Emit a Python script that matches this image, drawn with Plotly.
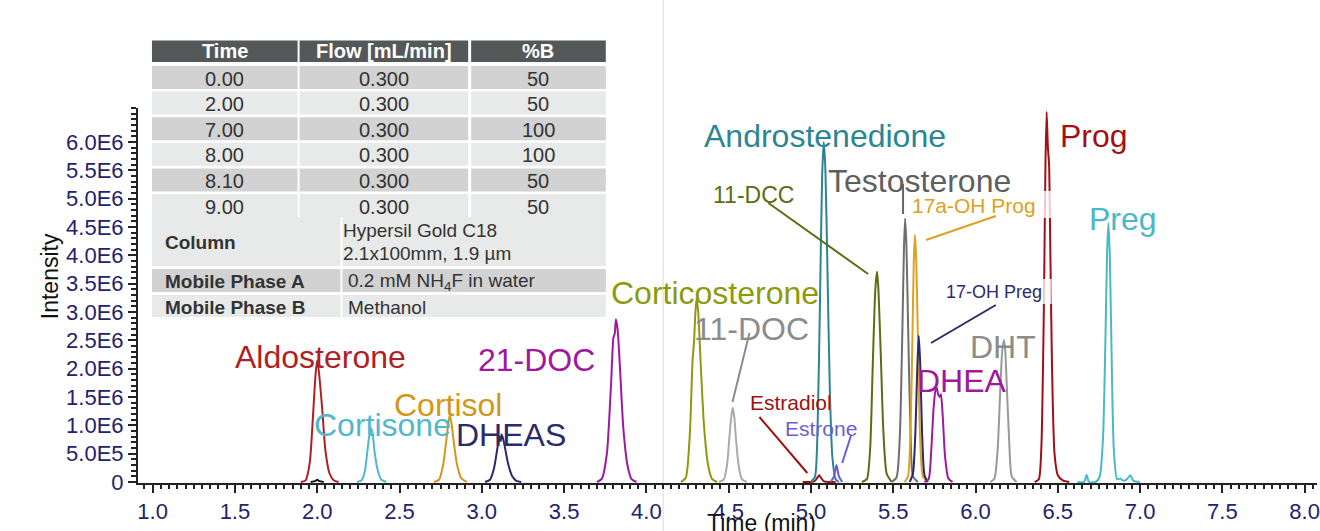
import plotly.graph_objects as go

# ---------------- data (time in min, intensity in 1E6 counts) ----------------
aldo_t = [1.90, 1.93, 1.955, 1.975, 1.99, 2.00, 2.01, 2.03, 2.05, 2.075, 2.10, 2.13]
aldo_i = [0, 0.03, 0.35, 1.2, 1.9, 2.15, 1.95, 1.3, 0.55, 0.15, 0.03, 0]

blank_t = [1.96, 1.99, 2.00, 2.01, 2.04]
blank_i = [0, 0.02, 0.04, 0.02, 0]

cortisone_t = [2.24, 2.27, 2.29, 2.305, 2.318, 2.327, 2.337, 2.35, 2.37, 2.39, 2.42]
cortisone_i = [0, 0.03, 0.2, 0.55, 0.85, 0.95, 0.85, 0.5, 0.18, 0.04, 0]

cortisol_t = [2.71, 2.74, 2.765, 2.785, 2.797, 2.805, 2.815, 2.83, 2.85, 2.875, 2.91]
cortisol_i = [0, 0.04, 0.3, 0.75, 1.05, 1.17, 1.05, 0.7, 0.3, 0.07, 0]

dheas_t = [3.02, 3.05, 3.075, 3.095, 3.108, 3.115, 3.12, 3.128, 3.14, 3.16, 3.185, 3.21, 3.24]
dheas_i = [0, 0.04, 0.25, 0.6, 0.8, 0.72, 0.84, 0.78, 0.62, 0.32, 0.1, 0.02, 0]

doc21_t = [3.70, 3.73, 3.76, 3.785, 3.80, 3.808, 3.815, 3.825, 3.84, 3.86, 3.885, 3.91, 3.94]
doc21_i = [0, 0.06, 0.5, 1.7, 2.55, 2.62, 2.87, 2.7, 2.0, 0.95, 0.3, 0.05, 0]

cortico_t = [4.21, 4.24, 4.265, 4.28, 4.29, 4.298, 4.305, 4.315, 4.33, 4.35, 4.375, 4.40, 4.43]
cortico_i = [0, 0.08, 0.9, 2.1, 2.5, 3.0, 3.24, 3.0, 2.1, 1.0, 0.3, 0.05, 0]

doc11_t = [4.44, 4.47, 4.49, 4.505, 4.517, 4.525, 4.533, 4.545, 4.56, 4.58, 4.61]
doc11_i = [0, 0.04, 0.3, 0.8, 1.18, 1.31, 1.18, 0.75, 0.3, 0.05, 0]

estradiol_t = [4.95, 5.02, 5.04, 5.05, 5.06, 5.08, 5.15]
estradiol_i = [0, 0.01, 0.08, 0.12, 0.08, 0.01, 0]

andro_t = [5.00, 5.025, 5.04, 5.055, 5.068, 5.078, 5.088, 5.10, 5.115, 5.13, 5.15, 5.17]
andro_i = [0, 0.1, 0.9, 3.2, 5.4, 6.0, 5.5, 3.8, 1.6, 0.45, 0.05, 0]

estrone_t = [5.12, 5.14, 5.155, 5.17, 5.19]
estrone_i = [0, 0.1, 0.3, 0.1, 0]

dcc11_t = [5.31, 5.34, 5.36, 5.375, 5.388, 5.395, 5.402, 5.41, 5.425, 5.44, 5.46, 5.49]
dcc11_i = [0, 0.05, 0.6, 2.0, 3.2, 3.55, 3.71, 3.4, 2.2, 0.9, 0.15, 0]

testo_t = [5.49, 5.52, 5.54, 5.555, 5.565, 5.572, 5.58, 5.59, 5.605, 5.62, 5.65]
testo_i = [0, 0.08, 0.8, 2.6, 4.1, 4.65, 4.2, 2.8, 0.9, 0.1, 0]

ohprog_t = [5.57, 5.59, 5.605, 5.617, 5.625, 5.632, 5.64, 5.65, 5.662, 5.68, 5.71]
ohprog_i = [0, 0.1, 0.9, 2.6, 3.9, 4.36, 3.9, 2.5, 0.9, 0.1, 0]

ohpreg_t = [5.60, 5.62, 5.635, 5.646, 5.655, 5.664, 5.675, 5.69, 5.71]
ohpreg_i = [0, 0.15, 0.9, 2.0, 2.58, 2.1, 0.9, 0.12, 0]

dhea_t = [5.69, 5.715, 5.73, 5.745, 5.757, 5.765, 5.773, 5.782, 5.79, 5.80, 5.815, 5.835, 5.86]
dhea_i = [0, 0.05, 0.5, 1.3, 1.62, 1.66, 1.55, 1.5, 1.55, 1.2, 0.45, 0.06, 0]

dht_t = [6.09, 6.115, 6.135, 6.15, 6.162, 6.172, 6.18, 6.19, 6.205, 6.22, 6.25]
dht_i = [0, 0.06, 0.6, 1.6, 2.3, 2.5, 2.35, 1.7, 0.7, 0.1, 0]

prog_t = [6.36, 6.385, 6.40, 6.415, 6.425, 6.432, 6.44, 6.447, 6.455, 6.465, 6.48, 6.50, 6.53, 6.57]
prog_i = [0, 0.05, 0.6, 3.0, 5.6, 6.53, 5.9, 5.6, 4.0, 2.0, 0.5, 0.12, 0.03, 0]

preg_t = [6.62, 6.66, 6.675, 6.69, 6.73, 6.755, 6.775, 6.79, 6.80, 6.808, 6.816, 6.826, 6.84, 6.86,
          6.88, 6.90, 6.92, 6.94, 6.96, 7.00]
preg_i = [0, 0.0, 0.13, 0.0, 0.0, 0.1, 0.8, 2.6, 4.1, 4.57, 4.0, 2.4, 0.6, 0.05,
          0.06, 0.02, 0.05, 0.12, 0.02, 0]

x_tickvals = [1.0, 1.5, 2.0, 2.5, 3.0, 3.5, 4.0, 4.5, 5.0, 5.5, 6.0, 6.5, 7.0, 7.5, 8.0]
x_ticktext = ["1.0", "1.5", "2.0", "2.5", "3.0", "3.5", "4.0", "4.5", "5.0", "5.5", "6.0", "6.5",
              "7.0", "7.5", "8.0"]
y_tickvals = [0, 0.5, 1.0, 1.5, 2.0, 2.5, 3.0, 3.5, 4.0, 4.5, 5.0, 5.5, 6.0]
y_ticktext = ["0", "5.0E5", "1.0E6", "1.5E6", "2.0E6", "2.5E6", "3.0E6", "3.5E6", "4.0E6",
              "4.5E6", "5.0E6", "5.5E6", "6.0E6"]

table_header = ["Time", "Flow [mL/min]", "%B"]
grad_time = ["0.00", "2.00", "7.00", "8.00", "8.10", "9.00"]
grad_flow = ["0.300", "0.300", "0.300", "0.300", "0.300", "0.300"]
grad_pctB = ["50", "50", "100", "100", "50", "50"]
method_labels = ["Column", "Mobile Phase A", "Mobile Phase B"]
method_values = [["Hypersil Gold C18", "2.1x100mm, 1.9 µm"], ["0.2 mM NH<sub>4</sub>F in water"], ["Methanol"]]

# ---------------- geometry ----------------
W, H = 1320, 531
PL, PR, PT, PB = 138, 1320, 108, 483
X0, X1 = 0.911, 8.075
Y0, Y1 = -0.0176, 6.6

def dx(px):
    return X0 + (px - PL) / (PR - PL) * (X1 - X0)

def dy(py):
    return Y0 + (PB - py) / (PB - PT) * (Y1 - Y0)

def ppx(px):
    return (px - PL) / (PR - PL)

def ppy(py):
    return (PB - py) / (PB - PT)

FONT = "Liberation Sans, Arial, sans-serif"

fig = go.Figure()

series = [
    (aldo_t, aldo_i, "#b01f24"),
    (blank_t, blank_i, "#111111"),
    (cortisone_t, cortisone_i, "#4fb9c9"),
    (cortisol_t, cortisol_i, "#d4961a"),
    (dheas_t, dheas_i, "#2b2a6b"),
    (doc21_t, doc21_i, "#a0189e"),
    (cortico_t, cortico_i, "#8e9a0e"),
    (doc11_t, doc11_i, "#aaaaaa"),
    (estradiol_t, estradiol_i, "#a01010"),
    (andro_t, andro_i, "#2c8592"),
    (estrone_t, estrone_i, "#6a5fd0"),
    (dcc11_t, dcc11_i, "#5a6e12"),
    (testo_t, testo_i, "#6e6e6e"),
    (ohprog_t, ohprog_i, "#e0a020"),
    (ohpreg_t, ohpreg_i, "#2b2a6b"),
    (dhea_t, dhea_i, "#a0189e"),
    (dht_t, dht_i, "#999999"),
    (prog_t, prog_i, "#a30f14"),
    (preg_t, preg_i, "#4ab8c8"),
]
for t, v, c in series:
    fig.add_trace(go.Scatter(x=t, y=v, mode="lines",
                             line=dict(color=c, width=2, shape="spline", smoothing=0.6),
                             hoverinfo="skip", showlegend=False))

shapes = []
annotations = []

# faint vertical divider
shapes.append(dict(type="line", xref="paper", yref="paper", x0=ppx(664.5), x1=ppx(664.5),
                   y0=ppy(531), y1=ppy(0), line=dict(color="#e6e6e6", width=1.5), layer="below"))

# ---- method table ----
DARK, LIGHT, HEAD = "#d2d2d2", "#e8e9e9", "#555858"
cols = [(152, 298), (300, 469), (472, 607)]
def rect(x0, x1, y0, y1, col):
    shapes.append(dict(type="rect", xref="paper", yref="paper", x0=ppx(x0), x1=ppx(x1),
                       y0=ppy(y1), y1=ppy(y0), fillcolor=col, line=dict(width=0), layer="above"))

def txt(s, px, py, size=20, color="#333333", anchor="center", bold=False, family=FONT):
    annotations.append(dict(xref="paper", yref="paper", x=ppx(px), y=ppy(py), text=(f"<b>{s}</b>" if bold else s),
                            showarrow=False, xanchor=anchor, yanchor="middle",
                            font=dict(family=family, size=size, color=color)))

for (x0, x1), h in zip(cols, table_header):
    rect(x0, x1, 40.5, 62, HEAD)
    txt(h, (x0 + x1) / 2, 51.5, size=20, color="white", bold=True,
        family="Liberation Sans Narrow, Arial Narrow, Liberation Sans, Arial")
for i in range(len(grad_time)):
    y0 = 66 + 25.6 * i
    y1 = y0 + 23
    col = DARK if i % 2 == 0 else LIGHT
    for (x0, x1), s in zip(cols, [grad_time[i], grad_flow[i], grad_pctB[i]]):
        rect(x0, x1, y0, y1, col)
        txt(s, (x0 + x1) / 2, (y0 + y1) / 2 + 1)

lower_rows = [(217, 266, LIGHT), (269, 292, DARK), (295, 317, LIGHT)]
for (y0, y1, col), lab, vals in zip(lower_rows, method_labels, method_values):
    rect(152, 341, y0, y1, col)
    rect(343, 607, y0, y1, col)
    txt(lab, 163, (y0 + y1) / 2 + 1, size=19, color="#333333", anchor="left", bold=True)
    if len(vals) == 2:
        txt(vals[0], 342, 230, size=19, anchor="left")
        txt(vals[1], 342, 253, size=19, anchor="left")
    else:
        txt(vals[0], 347, (y0 + y1) / 2 + 1, size=19, anchor="left")

# ---- translucent label boxes (over the Prog peak) ----
for (x0, x1, y0, y1) in [(912, 1054, 191, 218), (945, 1054, 279, 304)]:
    shapes.append(dict(type="rect", xref="x", yref="y", x0=dx(x0), x1=dx(x1), y0=dy(y1), y1=dy(y0),
                       fillcolor="rgba(255,255,255,0.78)", line=dict(width=0), layer="above"))

# ---- leader lines ----
leaders = [
    ((770, 203), (870, 274), "#5a6e12"),
    ((905, 184), (905, 214), "#666666"),
    ((998, 216), (928, 240), "#e0a020"),
    ((998, 305), (933, 343), "#2b2a6b"),
    ((751, 333), (734, 402), "#8c8c8c"),
    ((761, 417), (809, 473), "#a01010"),
    ((853, 435), (844, 463), "#6a5fd0"),
]
for (a, b, c) in leaders:
    shapes.append(dict(type="line", xref="x", yref="y", x0=dx(a[0]), y0=dy(a[1]), x1=dx(b[0]), y1=dy(b[1]),
                       line=dict(color=c, width=2), layer="above"))

# ---- compound labels ----
BIG = 32
labels = [
    ("Aldosterone", 321, 357, BIG, "#b01f24"),
    ("Cortisone", 383, 425, BIG, "#4fb9c9"),
    ("Cortisol", 449, 405, BIG, "#d4961a"),
    ("DHEAS", 512, 435, BIG, "#2b2a6b"),
    ("21-DOC", 538, 360, BIG, "#a0189e"),
    ("Corticosterone", 716, 293, BIG, "#8e9a0e"),
    ("11-DOC", 753, 329, BIG, "#8c8c8c"),
    ("Androstenedione", 827, 136, BIG, "#2c8592"),
    ("Testosterone", 921, 181, BIG, "#5f5f5f"),
    ("11-DCC", 755, 195, 23, "#5a6e12"),
    ("17a-OH Prog", 976, 205, 21, "#e0a020"),
    ("17-OH Preg", 996, 292, 18, "#2b2a6b"),
    ("Estradiol", 793, 402, 21, "#a01010"),
    ("Estrone", 823, 428, 21, "#6a5fd0"),
    ("DHEA", 964, 381, BIG, "#a0189e"),
    ("DHT", 1005, 347, BIG, "#8c8c8c"),
    ("Prog", 1096, 136, BIG, "#a30f14"),
    ("Preg", 1126, 219, BIG, "#4ab8c8"),
]
for s, px, py, size, c in labels:
    annotations.append(dict(xref="x", yref="y", x=dx(px), y=dy(py), text=s, showarrow=False,
                            xanchor="center", yanchor="middle", font=dict(family=FONT, size=size, color=c)))

# ---- axis titles ----
annotations.append(dict(xref="paper", yref="paper", x=ppx(50), y=ppy(276), text="Intensity", textangle=-90,
                        showarrow=False, xanchor="center", yanchor="middle",
                        font=dict(family=FONT, size=23, color="#111111")))
annotations.append(dict(xref="paper", yref="paper", x=ppx(763), y=ppy(508), text="Time (min)",
                        showarrow=False, xanchor="center", yanchor="top",
                        font=dict(family=FONT, size=23, color="#111111")))

TICKC = "#22226e"
fig.update_layout(
    width=W, height=H,
    margin=dict(l=PL, r=W - PR, t=PT, b=H - PB, pad=0),
    paper_bgcolor="white", plot_bgcolor="white",
    showlegend=False,
    shapes=shapes, annotations=annotations,
    xaxis=dict(range=[X0, X1], showgrid=False, zeroline=False, showline=True, linecolor="#222222", linewidth=2,
               tickmode="array", tickvals=x_tickvals, ticktext=x_ticktext, ticklabeloverflow="allow",
               ticks="outside", ticklen=8, tickwidth=2, tickcolor="#222222",
               tickfont=dict(family=FONT, size=22, color=TICKC),
               minor=dict(ticks="outside", ticklen=4, tickwidth=1.5, tickcolor="#222222", dtick=0.05, tick0=1.0,
                          showgrid=False)),
    yaxis=dict(range=[Y0, Y1], showgrid=False, zeroline=False, showline=True, linecolor="#222222", linewidth=2,
               tickmode="array", tickvals=y_tickvals, ticktext=y_ticktext,
               ticks="outside", ticklen=8, tickwidth=2, tickcolor="#222222",
               tickfont=dict(family=FONT, size=22, color=TICKC),
               minor=dict(ticks="outside", ticklen=5, tickwidth=1.5, tickcolor="#222222", dtick=0.1, tick0=0,
                          showgrid=False)),
)

fig.write_html("out.html", config={"displayModeBar": False},
               post_script="document.body.style.margin='0';document.body.style.overflow='hidden';")
